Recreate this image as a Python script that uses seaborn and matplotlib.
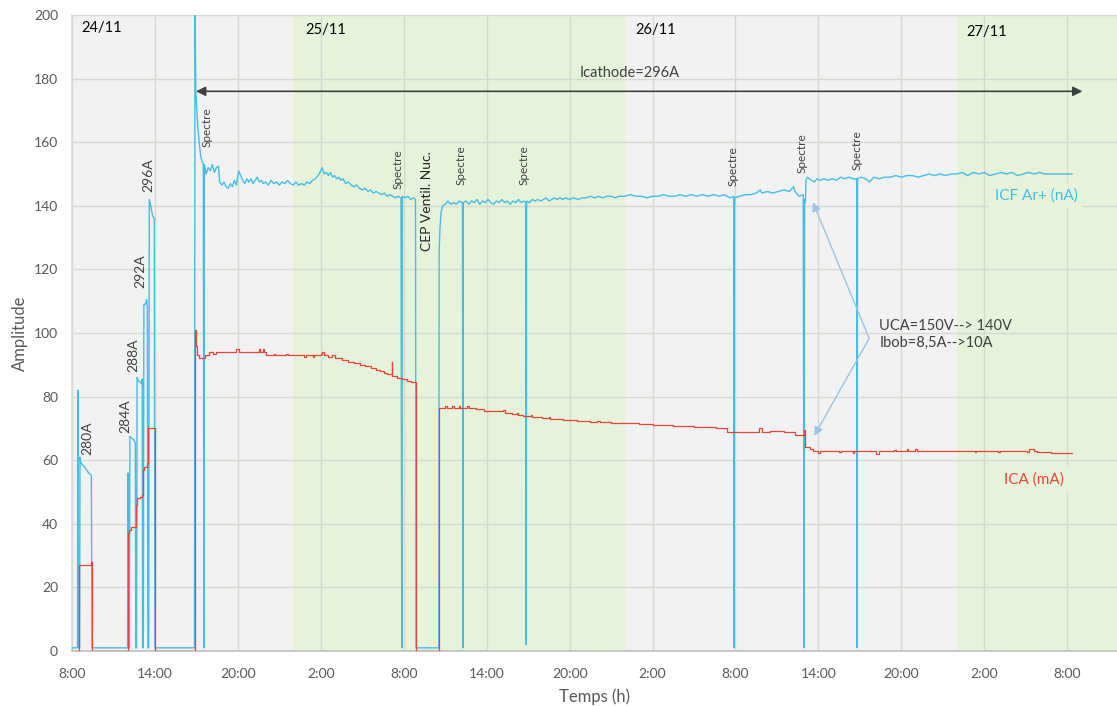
import numpy as np
import pandas as pd
import matplotlib
matplotlib.use("Agg")
import matplotlib.pyplot as plt
import seaborn as sns

# ---------------- data (time in hours since 24/11 00:00) ----------------
icf_t = [8.00, 8.40, 8.43, 8.47, 8.55, 8.58, 8.62, 8.75, 8.90, 9.05, 9.20, 9.35, 9.40, 9.45,
         12.02, 12.05, 12.09, 12.15, 12.19, 12.30, 12.45, 12.58, 12.62, 12.67, 12.71, 12.80, 12.95,
         13.05, 13.08, 13.11, 13.16, 13.20, 13.30, 13.40, 13.45, 13.49, 13.55, 13.59, 13.70, 13.82,
         13.95, 14.00, 16.86, 16.90, 16.95, 17.02, 17.10, 17.20, 17.30, 17.40, 17.50, 17.54, 17.58,
         17.70, 17.85, 18.00, 18.15, 18.30, 18.45, 18.60, 18.68, 18.85, 19.00, 19.15, 19.30, 19.45,
         19.60, 19.75, 19.90, 20.05, 20.20, 20.35, 20.50, 20.65, 20.80, 20.95, 21.10, 21.25, 21.40,
         21.55, 21.70, 21.85, 22.00, 22.20, 22.40, 22.60, 22.80, 23.00, 23.20, 23.40, 23.60, 23.80,
         24.00, 24.20, 24.40, 24.60, 24.80, 25.00, 25.20, 25.40, 25.60, 25.80, 26.00, 26.10, 26.25,
         26.40, 26.55, 26.70, 26.85, 27.00, 27.15, 27.30, 27.45, 27.60, 27.80, 28.00, 28.20, 28.40,
         28.60, 28.80, 29.00, 29.20, 29.40, 29.60, 29.80, 30.00, 30.20, 30.40, 30.60, 30.80, 31.00,
         31.20, 31.40, 31.60, 31.80, 31.86, 31.90, 32.10, 32.30, 32.50, 32.70, 32.85, 32.89, 34.54,
         34.56, 34.62, 34.70, 34.82, 35.00, 35.20, 35.40, 35.60, 35.80, 36.00, 36.25, 36.28, 36.31,
         36.50, 36.70, 36.90, 37.10, 37.30, 37.50, 37.70, 37.90, 38.10, 38.30, 38.50, 38.70, 38.90,
         39.10, 39.30, 39.50, 39.70, 39.90, 40.10, 40.30, 40.50, 40.70, 40.83, 40.86, 40.89, 41.10,
         41.30, 41.50, 41.70, 41.90, 42.10, 42.30, 42.50, 42.70, 42.90, 43.10, 43.30, 43.50, 43.70,
         44.00, 44.30, 44.60, 44.90, 45.20, 45.50, 45.80, 46.10, 46.40, 46.70, 47.00, 47.30, 47.60,
         48.00, 48.40, 48.80, 49.20, 49.60, 50.00, 50.40, 50.80, 51.20, 51.60, 52.00, 52.40, 52.80,
         53.20, 53.60, 54.00, 54.40, 54.80, 55.20, 55.60, 55.88, 55.90, 55.93, 56.30, 56.70, 57.10,
         57.50, 57.80, 57.90, 58.30, 58.70, 59.10, 59.50, 59.90, 60.20, 60.30, 60.60, 60.90, 60.96,
         61.00, 61.06, 61.10, 61.20, 61.35, 61.50, 61.70, 61.90, 62.10, 62.40, 62.70, 63.00, 63.30,
         63.60, 63.90, 64.20, 64.50, 64.78, 64.80, 64.83, 65.10, 65.40, 65.70, 66.00, 66.40, 66.80,
         67.20, 67.60, 68.00, 68.40, 68.80, 69.20, 69.60, 70.00, 70.40, 70.80, 71.20, 71.60, 72.00,
         72.40, 72.80, 73.20, 73.60, 74.00, 74.40, 74.80, 75.20, 75.60, 76.00, 76.40, 76.80, 77.20,
         77.60, 78.00, 78.40, 78.80, 79.20, 79.60, 80.00, 80.36]
icf_v = [1, 1, 82, 1, 1, 61, 59.5, 58.5, 58, 57, 56, 55.5, 55, 1,
         1, 56, 1, 1, 67.5, 67, 66.5, 65.5, 1, 1, 86, 85, 84.5,
         84, 85.5, 1, 1, 109, 109, 110.5, 108, 1, 1, 142, 140, 137,
         136, 1, 1, 210, 177, 171, 165, 160, 156, 154, 153, 1, 153,
         150, 152, 151, 153, 150.5, 152, 152.5, 147.5, 146.5, 147.5, 146, 145.5, 147,
         146, 148, 146.5, 151, 149.5, 148, 147, 148.5, 147.5, 148.5, 147, 148, 149,
         147.5, 148, 147, 147.5, 146.5, 148, 147, 147.5, 146.5, 147.5, 147, 148, 147,
         146.5, 147.5, 146.5, 147, 146.5, 147.5, 147, 148, 148.5, 149.5, 151, 152, 150,
         150.5, 149.5, 150.5, 149, 149.5, 148.5, 149, 148, 148.5, 147, 147.5, 146.5, 146,
         146.5, 145.5, 145, 145.5, 144.5, 145, 144, 144.5, 144, 143.5, 144, 143, 143.5,
         143, 142.5, 143, 142.5, 1, 143, 142.5, 143, 142, 142.5, 142, 1, 1,
         125, 133, 138, 140, 140.5, 141.5, 140.5, 141, 140.5, 141.5, 141, 1, 141,
         141.5, 140.5, 141.5, 141, 142, 140.5, 141.5, 141, 142, 141, 140.5, 141.5, 141,
         142, 141, 141.5, 140.5, 141.5, 141, 142, 141, 141.5, 141, 2, 141.5, 141,
         142, 141.5, 142, 141.5, 142, 142.5, 141.5, 142, 142.5, 142, 142.5, 142, 142.5,
         142, 142.5, 142, 142.5, 142.5, 143, 142.5, 143, 142.5, 143, 143, 142.5, 143,
         143, 143.5, 143, 143, 142.5, 143, 143, 143.5, 143, 143, 143.5, 143, 143.5,
         143, 143.5, 143, 143.5, 143, 143.5, 142.5, 143, 1, 142.5, 143, 143.5, 143.5,
         144, 145, 144, 144.5, 144, 144.5, 145, 144.5, 146, 144.5, 143, 143.5, 1,
         142, 141, 148, 149, 148.5, 148, 147.5, 148.5, 148, 148.5, 148, 148.5, 148,
         149, 148.5, 149, 148.5, 148.5, 1, 148.5, 149, 148.5, 147.5, 149, 148.5, 149,
         149, 149.5, 149, 149.5, 149.5, 149, 149.5, 150, 149.5, 150, 149.5, 150, 150,
         150.5, 149.5, 150.5, 150, 150.5, 149.5, 150, 150.5, 150, 150.5, 149.5, 150, 150.5,
         150, 150.5, 150, 150, 150, 150, 150, 150]

ica_t = [8.00, 8.50, 8.53, 9.37, 9.42, 12.05, 12.08, 12.15, 12.30, 12.64, 12.70, 12.95, 13.05,
         13.14, 13.20, 13.40, 13.52, 14.01, 16.90, 16.95, 17.05, 17.20, 17.60, 17.90, 18.20, 18.40,
         19.90, 20.10, 21.50, 21.60, 21.80, 21.90, 22.05, 22.60, 22.70, 23.50, 23.60, 24.80, 24.90,
         25.40, 25.50, 26.00, 26.10, 26.20, 26.50, 26.80, 27.00, 27.50, 28.00, 28.40, 28.80, 29.20,
         29.60, 30.00, 30.30, 30.60, 30.80, 31.13, 31.17, 31.50, 31.90, 32.20, 32.50, 32.89, 34.56,
         35.00, 35.10, 35.50, 35.60, 36.00, 36.10, 36.60, 36.70, 37.20, 37.80, 39.20, 39.30, 39.80,
         40.20, 40.30, 40.60, 41.00, 41.20, 41.30, 42.00, 42.50, 42.60, 43.50, 44.50, 45.50, 46.00,
         46.20, 47.00, 49.00, 50.00, 51.50, 53.00, 54.60, 55.40, 57.70, 57.90, 58.50, 59.50, 60.30,
         60.95, 61.05, 61.40, 61.60, 62.00, 62.10, 63.50, 63.60, 64.50, 64.60, 66.20, 66.40, 67.50,
         67.60, 68.40, 68.50, 69.00, 69.10, 73.30, 73.40, 75.00, 75.10, 77.10, 77.20, 77.60, 77.80,
         78.80, 80.36]
ica_v = [0, 26, 27, 28, 0, 30, 37, 38, 39, 46, 48, 48.5, 49,
         57, 58, 59, 70, 0, 101, 96, 93, 92, 93, 94, 93.5, 94,
         95, 94, 95, 94, 95, 94, 93, 93.5, 93, 93.5, 93, 92.5, 93,
         92.5, 93, 93.5, 94, 93, 92.5, 93, 92, 91.5, 91, 90.5, 90, 89.5,
         89, 88.5, 88, 87.5, 87, 91, 86.5, 86, 85.5, 85, 84.5, 0, 76.5,
         77, 76.5, 77, 76.5, 77, 76.5, 77, 76.5, 76, 75.5, 75.8, 75, 74.5,
         74.8, 74.2, 74, 73.8, 74.2, 73.5, 73.2, 73.5, 73, 72.7, 72.4, 72, 72.3,
         72, 71.7, 71.3, 71, 70.7, 70.4, 70, 69, 70, 69, 69.2, 69, 68,
         69.5, 64, 63.5, 63, 62.3, 63, 62.5, 63, 62.3, 63, 62, 63, 63.3,
         63, 63.5, 63, 63.5, 63, 62.5, 63, 62.5, 63, 62.5, 63.5, 63, 62.5,
         62.3, 62.3]

day_starts = [0, 24, 48, 72, 96]
day_labels = ["24/11", "25/11", "26/11", "27/11"]
step_labels = ["280A", "284A", "288A", "292A", "296A"]
step_pos = [(9.09, 66.8), (11.84, 73.7), (12.41, 92.9), (12.92, 119.4), (13.50, 149.6)]
spectre_pos = [(17.75, 164.6), (31.59, 151.5), (36.15, 152.8), (40.71, 152.8),
               (55.83, 152.6), (60.82, 156.5), (64.80, 157.6)]

# ---------------- styling ----------------
sns.set_theme(style="white")
plt.rcParams["font.family"] = ["Lato", "DejaVu Sans"]

GRAY_BG = "#F2F2F2"
GREEN_BG = "#E6F3DA"
CYAN = "#45BDE3"
RED = "#E8443A"
TXT = "#595959"

fig = plt.figure(figsize=(11.17, 7.06), dpi=100)
ax = fig.add_axes([72 / 1117, 55 / 706, 1 - 72 / 1117, 636 / 706])
ax.set_facecolor("white")

for i in range(4):
    ax.axvspan(day_starts[i], day_starts[i + 1], color=GRAY_BG if i % 2 == 0 else GREEN_BG,
               lw=0, zorder=0)

ax.set_xlim(8, 83.6)
ax.set_ylim(0, 200)
xt = list(range(8, 84, 6))
ax.set_xticks(xt)
ax.set_xticklabels([f"{h % 24}:00" for h in xt])
ax.set_yticks(range(0, 201, 20))
ax.set_axisbelow(True)
ax.grid(True, color="#D6D9D2", lw=1, zorder=0.5)
ax.tick_params(axis="both", length=0, labelsize=10, labelcolor=TXT)
ax.tick_params(axis="x", pad=12)
ax.tick_params(axis="y", pad=10)
for s in ["top", "right"]:
    ax.spines[s].set_visible(False)
ax.spines["left"].set_color("#D9D9D9")
ax.spines["bottom"].set_color("#BFBFBF")
ax.spines["bottom"].set_linewidth(1.2)

df_icf = pd.DataFrame({"t": icf_t, "v": icf_v})
df_ica = pd.DataFrame({"t": ica_t, "v": ica_v})
sns.lineplot(data=df_icf, x="t", y="v", ax=ax, color=CYAN, lw=1.0,
             estimator=None, sort=False, zorder=3)
sns.lineplot(data=df_ica, x="t", y="v", ax=ax, color=RED, lw=0.9,
             estimator=None, sort=False, drawstyle="steps-post", zorder=3)

ax.set_xlabel("Temps (h)", fontsize=12, color=TXT, labelpad=6)
ax.set_ylabel("Amplitude", fontsize=12, color=TXT, labelpad=4)

# day labels
ax.text(8.65, 195.9, day_labels[0], fontsize=10.5, color="black", va="center", ha="left")
ax.text(24.86, 195.3, day_labels[1], fontsize=10.5, color="black", va="center", ha="left")
ax.text(48.74, 195.3, day_labels[2], fontsize=10.5, color="black", va="center", ha="left")
ax.text(72.69, 194.6, day_labels[3], fontsize=10.5, color="black", va="center", ha="left")

# current step labels
for lab, (x, y) in zip(step_labels, step_pos):
    ax.text(x, y, lab, rotation=90, fontsize=10, color="#404040", ha="center", va="center")

for (x, y) in spectre_pos:
    ax.text(x, y, "Spectre", rotation=90, fontsize=8.5, color="#404040", ha="center", va="center")

ax.text(33.69, 141.4, "CEP Ventil. Nuc.", rotation=90, fontsize=10, color="#262626",
        ha="center", va="center")

# Icathode arrow
ax.annotate("", xy=(16.97, 176), xytext=(81.1, 176),
            arrowprops=dict(arrowstyle="<|-|>", color="#404040", lw=1.2,
                            shrinkA=0, shrinkB=0, mutation_scale=14), zorder=4)
ax.text(48.34, 181.7, "Icathode=296A", fontsize=10.5, color="#404040", ha="center", va="center")

# series labels
ax.text(77.75, 143.3, "ICF Ar+ (nA)", fontsize=11, color=CYAN, ha="center", va="center",
        bbox=dict(facecolor=GREEN_BG, edgecolor="none", pad=4), zorder=4)
ax.text(77.6, 53.9, "ICA (mA)", fontsize=11, color=RED, ha="center", va="center",
        bbox=dict(facecolor=GREEN_BG, edgecolor="none", pad=4), zorder=4)

# UCA / Ibob annotation
for target in [(61.6, 141.1), (61.7, 67.7)]:
    ax.annotate("", xy=target, xytext=(65.67, 98.3),
                arrowprops=dict(arrowstyle="-|>", color="#9DC3E6", lw=1.0,
                                shrinkA=0, shrinkB=0, mutation_scale=13), zorder=4)
ax.text(66.4, 99.5, "UCA=150V--> 140V\nIbob=8,5A-->10A", fontsize=10.5, color="#404040",
        ha="left", va="center", linespacing=1.25, zorder=4)

fig.savefig("out.png", dpi=100)
